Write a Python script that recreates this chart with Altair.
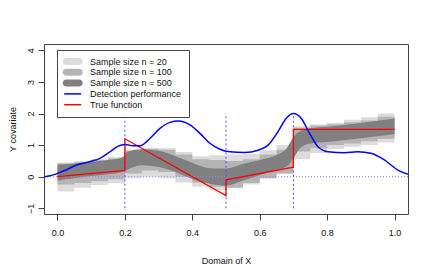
import altair as alt
import pandas as pd

labels = ["Sample size n = 20", "Sample size n = 100", "Sample size n = 500",
          "Detection performance", "True function"]
colors = ["#dcdcdc", "#b4b4b4", "#808080", "#0000ff", "#ff0000"]

step_x = [0.00, 0.05, 0.10, 0.15, 0.20, 0.25, 0.30, 0.35, 0.40, 0.45, 0.50,
          0.55, 0.60, 0.65, 0.70, 0.75, 0.80, 0.85, 0.90, 0.95, 1.00]
n20_lo = [-0.47, -0.35, -0.26, -0.21, -0.05, 0.00, -0.05, -0.18, -0.32, -0.42, -0.35,
          -0.25, -0.05, 0.10, 0.55, 0.75, 0.88, 0.95, 1.00, 1.08, 1.08]
n20_hi = [0.45, 0.50, 0.55, 0.62, 0.85, 0.92, 0.90, 0.78, 0.65, 0.68, 0.70,
          0.72, 0.84, 1.00, 1.60, 1.65, 1.70, 1.80, 1.88, 2.00, 2.00]
n100_lo = [-0.25, -0.20, -0.14, -0.08, 0.10, 0.20, 0.15, 0.00, -0.18, -0.32, -0.35,
           -0.20, -0.05, 0.10, 0.80, 0.90, 1.00, 1.05, 1.12, 1.20, 1.20]
n100_hi = [0.42, 0.45, 0.52, 0.58, 0.82, 0.88, 0.85, 0.70, 0.55, 0.53, 0.50,
           0.55, 0.70, 0.85, 1.55, 1.62, 1.66, 1.72, 1.78, 1.90, 1.90]

n500_x = [0.00, 0.05, 0.10, 0.15, 0.19, 0.21, 0.25, 0.30, 0.35, 0.40, 0.45, 0.50,
          0.55, 0.60, 0.65, 0.68, 0.70, 0.72, 0.75, 0.80, 0.90, 1.00]
n500_lo = [-0.12, -0.05, 0.02, 0.08, 0.14, 0.24, 0.36, 0.31, 0.15, -0.07, -0.22, -0.28,
           -0.12, 0.05, 0.21, 0.32, 0.58, 0.90, 1.05, 1.10, 1.22, 1.34]
n500_hi = [0.38, 0.42, 0.47, 0.53, 0.60, 0.80, 0.87, 0.82, 0.65, 0.44, 0.27, 0.26,
           0.40, 0.53, 0.69, 0.90, 1.26, 1.44, 1.53, 1.58, 1.70, 1.84]

det_x = [-0.04, -0.022, 0.018, 0.057, 0.097, 0.126, 0.156, 0.18, 0.20, 0.225, 0.245,
         0.274, 0.304, 0.334, 0.358, 0.393, 0.423, 0.452, 0.482, 0.511, 0.556, 0.595,
         0.625, 0.654, 0.679, 0.70, 0.723, 0.748, 0.773, 0.803, 0.852, 0.891, 0.93,
         0.97, 1.01, 1.04]
det_y = [0.00, 0.03, 0.18, 0.37, 0.48, 0.58, 0.79, 0.97, 1.02, 0.98, 0.98,
         1.21, 1.53, 1.72, 1.76, 1.64, 1.37, 1.06, 0.87, 0.79, 0.77, 0.84,
         1.00, 1.42, 1.85, 2.00, 1.85, 1.37, 0.95, 0.79, 0.76, 0.79, 0.74,
         0.53, 0.21, 0.08]

true_x = [0.0, 0.2, 0.2, 0.5, 0.5, 0.7, 0.7, 1.0]
true_y = [0.0, 0.2, 1.2, -0.6, -0.1, 0.3, 1.5, 1.5]

breaks = [0.2, 0.5, 0.7]
break_lo = -1
break_hi = 2
zero_line = [0]

x_ticks = [0.0, 0.2, 0.4, 0.6, 0.8, 1.0]
y_ticks = [-1, 0, 1, 2, 3, 4]
x_domain = [-0.04, 1.04]
y_domain = [-1.18, 4.2]

FONT = "Liberation Sans"

xs = alt.Scale(domain=x_domain, nice=False, zero=False)
ys = alt.Scale(domain=y_domain, nice=False, zero=False)

# legend symbol shapes (unit coordinates, scaled by sqrt(symbolSize)/2 = 4.5 px)
thick_shape = ("M-0.51,-0.778H2.378A0.778,0.778 0 0 1 2.378,0.778"
               "H-0.51A0.778,0.778 0 0 1 -0.51,-0.778Z")
thin_shape = "M-0.955,-0.167H2.823V0.167H-0.955Z"
line_names = "['" + labels[3] + "','" + labels[4] + "']"

legend = alt.Legend(
    title=None, orient="none", legendX=13, legendY=6,
    symbolType={"expr": "indexof(" + line_names + ", datum.value) >= 0 ? '" + thin_shape + "' : '" + thick_shape + "'"},
    symbolSize=81,
    symbolStrokeWidth=0,
    symbolFillColor={"expr": "scale('color', datum.value)"},
    symbolOpacity=1,
    labelFont=FONT, labelFontSize=9, labelColor="#111",
    strokeColor="#444", fillColor="white", padding=7, rowPadding=0.8,
    labelOffset=17,
)
color = alt.Color("series:N", scale=alt.Scale(domain=labels, range=colors), legend=legend)
color_nolegend = alt.Color("series:N", scale=alt.Scale(domain=labels, range=colors), legend=None)

X_ax = alt.Axis(values=x_ticks, format=".1f", title="Domain of X")
Y_ax = alt.Axis(values=y_ticks, format="d", title="Y covariate", labelOverlap=False,
                labelAngle=270, labelAlign="center", labelBaseline="bottom")


def xenc():
    return alt.X("x:Q", scale=xs, axis=X_ax)


def yenc(field):
    return alt.Y(field, scale=ys, axis=Y_ax)


def band(xv, lo, hi, name, interp):
    df = pd.DataFrame({"x": xv, "lo": lo, "hi": hi, "series": name})
    return alt.Chart(df).mark_area(interpolate=interp, clip=True).encode(
        x=xenc(), y=yenc("lo:Q"), y2="hi:Q", color=color)


light = band(step_x, n20_lo, n20_hi, labels[0], "step-after")
mid = band(step_x, n100_lo, n100_hi, labels[1], "step-after")
dark = band(n500_x, n500_lo, n500_hi, labels[2], "monotone")

hline = alt.Chart(pd.DataFrame({"y": zero_line})).mark_rule(
    color="#8a8aff", strokeDash=[1, 2], strokeWidth=1).encode(y=yenc("y:Q"))

vdf = pd.DataFrame({"x": breaks, "lo": break_lo, "hi": break_hi})
vlines = alt.Chart(vdf).mark_rule(color="#4a4aff", strokeDash=[2, 2.5], strokeWidth=1).encode(
    x=xenc(), y=yenc("lo:Q"), y2="hi:Q")

tdf = pd.DataFrame({"x": true_x, "y": true_y, "i": list(range(len(true_x))), "series": labels[4]})
red = alt.Chart(tdf).mark_line(strokeWidth=1.3, clip=True).encode(
    x=xenc(), y=yenc("y:Q"), order="i:Q", color=color_nolegend)

ddf = pd.DataFrame({"x": det_x, "y": det_y, "i": list(range(len(det_x))), "series": labels[3]})
blue = alt.Chart(ddf).mark_line(strokeWidth=1.5, interpolate="monotone", clip=True).encode(
    x=xenc(), y=yenc("y:Q"), order="i:Q", color=color_nolegend)

chart = alt.layer(light, mid, dark, hline, vlines, red, blue).properties(
    width=364, height=170,
    padding={"left": 36, "top": 36, "right": 12, "bottom": 50},
    autosize=alt.AutoSizeParams(type="none"),
).configure_view(stroke="#444", strokeWidth=1).configure_axis(
    grid=False, domain=False, tickColor="#444", tickSize=6,
    labelFont=FONT, labelFontSize=9, labelColor="#111",
    titleFont=FONT, titleFontSize=9, titleColor="#111", titleFontWeight="normal",
).configure_axisX(
    labelPadding=8, titlePadding=19,
).configure_axisY(
    labelPadding=3, titlePadding=9, labelOverlap=False,
)

chart.save("out.html", embed_options={"renderer": "svg", "actions": False})
